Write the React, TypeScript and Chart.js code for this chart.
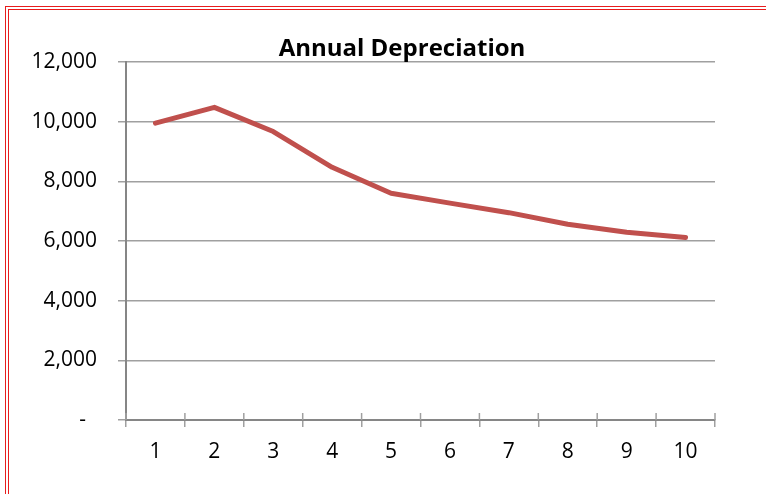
import React, { useEffect, useRef } from "react";
import { Chart, registerables } from "chart.js";

Chart.register(...registerables);

const categories = ["1", "2", "3", "4", "5", "6", "7", "8", "9", "10"];
const depreciation = [9950, 10480, 9670, 8470, 7600, 7270, 6950, 6560, 6290, 6120];
const yTicks = [0, 2000, 4000, 6000, 8000, 10000, 12000];
const chartTitle = "Annual Depreciation";

const FONT = "'Open Sans', 'Noto Sans', sans-serif";

const titlePlugin = {
  id: "customTitle",
  afterDraw(chart: any) {
    const ctx = chart.ctx;
    ctx.save();
    ctx.font = `bold 24px ${FONT}`;
    ctx.fillStyle = "#000";
    ctx.textAlign = "center";
    ctx.textBaseline = "alphabetic";
    ctx.fillText(chartTitle, 402, 56);
    ctx.restore();
  },
};

const innerTicksPlugin = {
  id: "innerTicks",
  afterDraw(chart: any) {
    const { ctx, chartArea } = chart;
    const n = categories.length;
    ctx.save();
    ctx.strokeStyle = "#a0a0a0";
    ctx.lineWidth = 1.5;
    for (let i = 0; i <= n; i++) {
      const x = chartArea.left + (i * (chartArea.right - chartArea.left)) / n;
      ctx.beginPath();
      ctx.moveTo(x, chartArea.bottom - 7);
      ctx.lineTo(x, chartArea.bottom);
      ctx.stroke();
    }
    ctx.restore();
  },
};

export default function App() {
  const ref = useRef<HTMLCanvasElement | null>(null);

  useEffect(() => {
    if (!ref.current) return;
    const chart = new Chart(ref.current, {
      type: "line",
      data: {
        labels: categories,
        datasets: [
          {
            data: depreciation,
            borderColor: "#C0504D",
            borderWidth: 5,
            borderCapStyle: "round",
            borderJoinStyle: "round",
            pointRadius: 0,
            tension: 0,
            fill: false,
          },
        ],
      },
      options: {
        animation: false,
        responsive: false,
        maintainAspectRatio: false,
        layout: { padding: { left: 0, top: 62, right: 51, bottom: 0 } },
        plugins: {
          legend: { display: false },
          title: { display: false },
          tooltip: { enabled: false },
        },
        scales: {
          x: {
            offset: true,
            grid: {
              offset: true,
              drawOnChartArea: false,
              tickLength: 7,
              color: "#a0a0a0",
              lineWidth: 1.5,
            },
            border: { color: "#868686", width: 2 },
            ticks: {
              font: { family: FONT, size: 21 },
              color: "#000",
              padding: 12,
              maxRotation: 0,
            },
            afterFit(scale: any) {
              scale.height = 74;
            },
          },
          y: {
            min: 0,
            max: 12000,
            afterBuildTicks(scale: any) {
              scale.ticks = yTicks.map((v) => ({ value: v }));
            },
            grid: {
              color: "#a0a0a0",
              lineWidth: 1.5,
              tickLength: 8,
            },
            border: { color: "#868686", width: 2 },
            ticks: {
              font: { family: FONT, size: 21 },
              color: "#000",
              padding: 21,
              callback: (v: any) =>
                Number(v) === 0 ? "-  " : Number(v).toLocaleString("en-US"),
            },
            afterFit(scale: any) {
              scale.width = 126;
            },
          },
        },
      },
      plugins: [titlePlugin, innerTicksPlugin],
    } as any);
    return () => chart.destroy();
  }, []);

  return (
    <div
      style={{
        position: "fixed",
        left: 0,
        top: 0,
        width: 766,
        height: 494,
        overflow: "hidden",
        background: "#fff",
      }}
    >
      <canvas ref={ref} width={766} height={494} style={{ position: "absolute", left: 0, top: 0 }} />
      <div
        style={{
          position: "absolute",
          left: 5,
          top: 6,
          width: 820,
          height: 540,
          border: "4px double #e81c1c",
          pointerEvents: "none",
        }}
      />
    </div>
  );
}
